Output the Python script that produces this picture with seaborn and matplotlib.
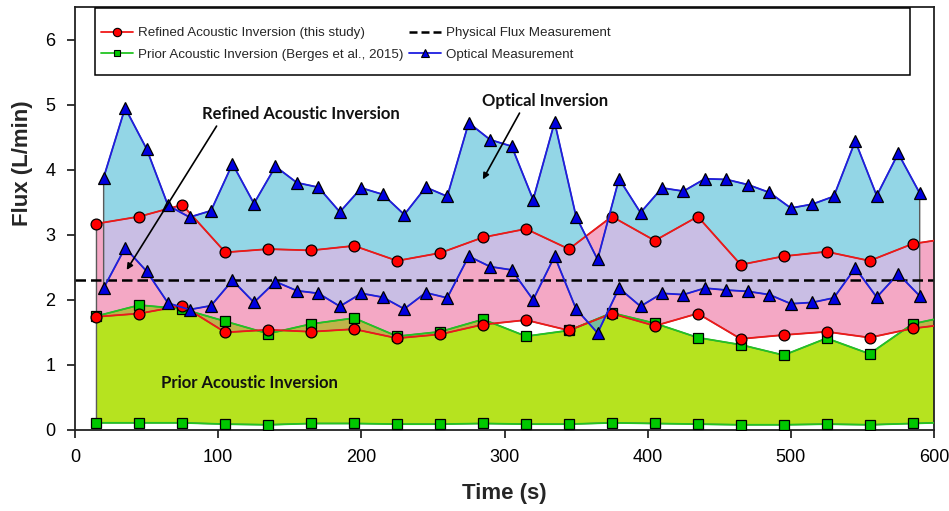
import numpy as np
import matplotlib
matplotlib.use("Agg")
import matplotlib.pyplot as plt
from matplotlib.lines import Line2D
from matplotlib.patches import Rectangle
import seaborn as sns

# ---------------- data ----------------
t_opt = [20, 35, 50, 65, 80, 95, 110, 125, 140, 155, 170, 185, 200, 215, 230, 245, 260,
         275, 290, 305, 320, 335, 350, 365, 380, 395, 410, 425, 440, 455, 470, 485, 500,
         515, 530, 545, 560, 575, 590]
opt_hi = [3.88, 4.95, 4.32, 3.45, 3.27, 3.37, 4.09, 3.48, 4.05, 3.80, 3.73, 3.35, 3.72,
          3.62, 3.31, 3.73, 3.59, 4.72, 4.46, 4.36, 3.54, 4.73, 3.28, 2.62, 3.86, 3.34,
          3.72, 3.67, 3.86, 3.85, 3.77, 3.65, 3.41, 3.47, 3.59, 4.44, 3.60, 4.25, 3.64]
opt_lo = [2.18, 2.80, 2.44, 1.95, 1.85, 1.91, 2.30, 1.96, 2.28, 2.14, 2.10, 1.90, 2.10,
          2.04, 1.86, 2.11, 2.03, 2.67, 2.51, 2.46, 2.00, 2.67, 1.86, 1.49, 2.18, 1.90,
          2.10, 2.08, 2.18, 2.15, 2.13, 2.08, 1.94, 1.96, 2.03, 2.49, 2.04, 2.40, 2.06]

t_ac = [15, 45, 75, 105, 135, 165, 195, 225, 255, 285, 315, 345, 375, 405, 435, 465,
        495, 525, 555, 585, 615]
ref_hi = [3.17, 3.28, 3.46, 2.73, 2.78, 2.76, 2.83, 2.60, 2.72, 2.96, 3.09, 2.78, 3.28,
          2.91, 3.28, 2.54, 2.67, 2.74, 2.60, 2.86, 2.96]
ref_lo = [1.74, 1.79, 1.91, 1.50, 1.54, 1.51, 1.55, 1.41, 1.47, 1.62, 1.69, 1.53, 1.79,
          1.60, 1.79, 1.40, 1.46, 1.51, 1.42, 1.56, 1.64]
prior_hi = [1.75, 1.92, 1.86, 1.67, 1.48, 1.63, 1.72, 1.44, 1.51, 1.70, 1.44, 1.53, 1.80,
            1.64, 1.42, 1.31, 1.15, 1.41, 1.17, 1.63, 1.77]
prior_lo = [0.11, 0.11, 0.11, 0.09, 0.08, 0.10, 0.10, 0.09, 0.09, 0.10, 0.09, 0.09, 0.11,
            0.10, 0.09, 0.08, 0.08, 0.09, 0.08, 0.10, 0.12]
physical_flux = 2.3

x_ticks = [0, 100, 200, 300, 400, 500, 600]
y_ticks = [0, 1, 2, 3, 4, 5, 6]

legend_labels = ["Refined Acoustic Inversion (this study)",
                 "Prior Acoustic Inversion (Berges et al., 2015)",
                 "Physical Flux Measurement",
                 "Optical Measurement"]

# ---------------- style ----------------
sns.set_theme(style="ticks")
plt.rcParams["font.family"] = ["Liberation Sans", "DejaVu Sans"]

CYAN = "#93D6E6"
PINK = "#F4A8C5"
LIME = "#B6E31F"
LAVENDER = "#C9BEE4"
OLIVE = "#BFB54A"
TEAL = "#76BD9E"
EDGE = "#5A5A5A"
RED = "#F01818"
GREEN = "#22C422"
BLUE = "#1E1EE0"

fig = plt.figure(figsize=(9.49, 5.11), dpi=100)
ax = fig.add_axes([75 / 949, 1 - 430 / 511, 859 / 949, 423 / 511])

# ---- filled bands ----
cyan_c = ax.fill_between(t_opt, opt_lo, opt_hi, facecolor=CYAN, edgecolor="none", zorder=1.0)
pink_c = ax.fill_between(t_ac, ref_lo, ref_hi, facecolor=PINK, edgecolor="none", zorder=1.1)
lime_c = ax.fill_between(t_ac, prior_lo, prior_hi, facecolor=LIME, edgecolor="none", zorder=1.2)

cyan_path = cyan_c.get_paths()[0]
pink_path = pink_c.get_paths()[0]

lav = ax.fill_between(t_ac, ref_lo, ref_hi, facecolor=LAVENDER, edgecolor="none", zorder=1.5)
lav.set_clip_path(cyan_path, ax.transData)
olv = ax.fill_between(t_ac, prior_lo, prior_hi, facecolor=OLIVE, edgecolor="none", zorder=1.6)
olv.set_clip_path(pink_path, ax.transData)
tel = ax.fill_between(t_ac, prior_lo, prior_hi, facecolor=TEAL, edgecolor="none", zorder=1.7)
tel.set_clip_path(cyan_path, ax.transData)

# band outlines
for xs, lo, hi in [(t_opt, opt_lo, opt_hi), (t_ac, ref_lo, ref_hi), (t_ac, prior_lo, prior_hi)]:
    ax.fill_between(xs, lo, hi, facecolor="none", edgecolor=EDGE, linewidth=1.0, zorder=2.0)

# physical flux
ax.axhline(physical_flux, color="black", linewidth=1.8, dashes=(4.2, 2.0), zorder=2.5)

# ---- lines with markers (seaborn) ----
line_kw = dict(linewidth=1.3, markeredgecolor="black", markeredgewidth=0.9, ax=ax)
sns.lineplot(x=t_ac, y=prior_lo, color=GREEN, marker="s", markersize=6.5,
             markerfacecolor="#00C800", zorder=3, **line_kw)
sns.lineplot(x=t_ac, y=prior_hi, color=GREEN, marker="s", markersize=6.5,
             markerfacecolor="#00C800", zorder=3, **line_kw)
sns.lineplot(x=t_ac, y=ref_lo, color=RED, marker="o", markersize=7.8,
             markerfacecolor="#FF0000", zorder=3.1, **line_kw)
sns.lineplot(x=t_ac, y=ref_hi, color=RED, marker="o", markersize=7.8,
             markerfacecolor="#FF0000", zorder=3.1, **line_kw)
sns.lineplot(x=t_opt, y=opt_lo, color=BLUE, marker="^", markersize=8,
             markerfacecolor="#0000E0", zorder=3.2, **line_kw)
sns.lineplot(x=t_opt, y=opt_hi, color=BLUE, marker="^", markersize=8,
             markerfacecolor="#0000E0", zorder=3.2, **line_kw)

# ---- axes ----
ax.set_xlim(0, 600)
ax.set_ylim(0, 6.5)
ax.set_xticks(x_ticks)
ax.set_yticks(y_ticks)
ax.tick_params(axis="both", direction="out", length=6, width=1.1, colors="black",
               labelsize=13, pad=8, top=False, right=False)
for s in ax.spines.values():
    s.set_color("#222222")
    s.set_linewidth(1.3)
    s.set_visible(True)

ax.set_xlabel("Time (s)", fontsize=16, fontweight="bold")
ax.set_ylabel("Flux (L/min)", fontsize=16, fontweight="bold")
ax.xaxis.set_label_coords(0.5, -0.125)
ax.yaxis.set_label_coords(-0.049, 0.63)

# ---- annotations ----
ann_font = dict(family=["Lato", "DejaVu Sans"], fontweight="bold", fontsize=12, color="#111111")
ax.text(157.7, 4.85, "Refined Acoustic Inversion", ha="center", va="center", zorder=6, **ann_font)
ax.text(328.3, 5.06, "Optical Inversion", ha="center", va="center", zorder=6, **ann_font)
ax.text(121.6, 0.72, "Prior Acoustic Inversion", ha="center", va="center", zorder=6, **ann_font)
arrow_kw = dict(arrowstyle="-|>", color="black", lw=1.2, mutation_scale=9, shrinkA=0, shrinkB=0)
ax.annotate("", xy=(36.1, 2.46), xytext=(98.9, 4.67), arrowprops=arrow_kw, zorder=6)
ax.annotate("", xy=(284.9, 3.85), xytext=(310.5, 4.87), arrowprops=arrow_kw, zorder=6)

# ---- legend ----
handles = [
    Line2D([], [], color=RED, lw=1.3, marker="o", markersize=6, markerfacecolor="#FF0000",
           markeredgecolor="black", markeredgewidth=0.8),
    Line2D([], [], color=GREEN, lw=1.3, marker="s", markersize=5, markerfacecolor="#00C800",
           markeredgecolor="black", markeredgewidth=0.8),
    Line2D([], [], color="black", lw=1.8, dashes=(3.2, 1.6)),
    Line2D([], [], color=BLUE, lw=1.3, marker="^", markersize=6, markerfacecolor="#0000E0",
           markeredgecolor="black", markeredgewidth=0.8),
]
frame = Rectangle((20 / 859, (430 - 75) / 423), (910 - 95) / 859, 67 / 423,
                  transform=ax.transAxes, facecolor="white", edgecolor="black",
                  linewidth=1.1, zorder=7)
ax.add_patch(frame)
leg = ax.legend(handles, legend_labels, ncol=2, loc="upper left",
                bbox_to_anchor=((101 - 75) / 859, (430 - 27) / 423),
                frameon=False, borderpad=0, borderaxespad=0, handlelength=2.4,
                handletextpad=0.4, columnspacing=0.4, labelspacing=0.7,
                prop=dict(family=["Liberation Sans", "DejaVu Sans"], size=9.6))
leg.set_zorder(8)

fig.savefig("out.png", dpi=100)
